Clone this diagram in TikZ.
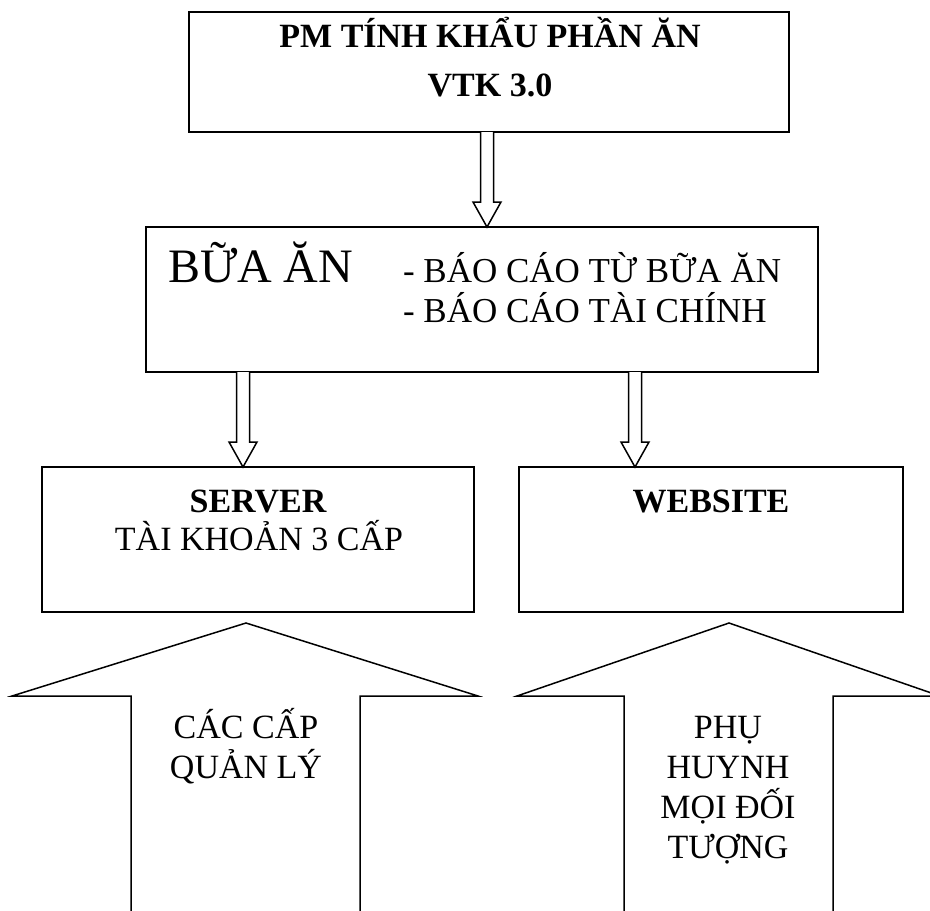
\documentclass[tikz,border=0pt]{standalone}
\usepackage{fontspec}
\setmainfont{Liberation Serif}
\usetikzlibrary{calc}
\tikzset{
  boxnode/.style={draw=black, line width=1.5bp, rectangle, inner sep=0pt, outer sep=0pt},
  hollow/.style={draw=black, line width=1.5bp, fill=white, line join=miter},
  txt/.style={inner sep=0pt, outer sep=0pt, anchor=base, font=\fontsize{34bp}{40bp}\selectfont},
  listtxt/.style={txt, anchor=base west, font=\fontsize{35bp}{40bp}\selectfont},
  btxt/.style={txt, font=\fontsize{34bp}{40bp}\selectfont\bfseries},
  bigtxt/.style={txt, font=\fontsize{48bp}{56bp}\selectfont}
}
\newcommand\hollowdown[2]{%
  \draw[hollow] let \p1=#1, \p2=#2 in
    (\x1-6.5bp,\y1) -- (\x1-6.5bp,\y2+25bp) -- (\x1-14bp,\y2+25bp) -- (\x2,\y2)
    -- (\x1+14bp,\y2+25bp) -- (\x1+6.5bp,\y2+25bp) -- (\x1+6.5bp,\y1);}
\begin{document}
\begin{tikzpicture}[x=1bp, y=-1bp]
\useasboundingbox (0,0) rectangle (930,911);
\fill[white] (0,0) rectangle (930,911);
% boxes
\node[boxnode, minimum width=600bp, minimum height=120bp] (top) at (489,72) {};
\node[boxnode, minimum width=672bp, minimum height=145bp] (mid) at (482,299.5) {};
\node[boxnode, minimum width=432bp, minimum height=145bp] (server) at (258,539.5) {};
\node[boxnode, minimum width=384bp, minimum height=145bp] (web) at (711,539.5) {};
% texts
\node[btxt] (t1) at (490,47) {PM TÍNH KHẨU PHẦN ĂN};
\node[btxt] (t2) at (490,96) {VTK 3.0};
\node[bigtxt, anchor=base west] (m0) at (168,282) {BỮA ĂN};
\node[listtxt] (m1) at (403,282) {- BÁO CÁO TỪ BỮA ĂN};
\node[listtxt] (m2) at (403,322) {- BÁO CÁO TÀI CHÍNH};
\node[btxt] (s1) at (258,512) {SERVER};
\node[txt] (s2) at (259,550) {TÀI KHOẢN 3 CẤP};
\node[btxt] (w1) at (711,512) {WEBSITE};
% small hollow arrows
\coordinate (ax1) at (487,0);
\coordinate (ax2) at (243,0);
\coordinate (ax3) at (635,0);
\hollowdown{(top.south -| ax1)}{(mid.north -| ax1)}
\hollowdown{(mid.south -| ax2)}{(server.north -| ax2)}
\hollowdown{(mid.south -| ax3)}{(web.north -| ax3)}
% big up arrows (cut by the lower edge)
\draw[hollow, fill=none] (131,915) -- (131,696) -- (12,696) -- (246,623) -- (478,696) -- (360,696) -- (360,915);
\draw[hollow, fill=none] (624,915) -- (624,696) -- (517,696) -- (729,623) -- (940,696) -- (833,696) -- (833,915);
\node[txt] (l1) at (246,738) {CÁC CẤP};
\node[txt] (l2) at (246,778) {QUẢN LÝ};
\node[txt] (r1) at (728,738) {PHỤ};
\node[txt] (r2) at (728,778) {HUYNH};
\node[txt] (r3) at (728,818) {MỌI ĐỐI};
\node[txt] (r4) at (728,858) {TƯỢNG};
\end{tikzpicture}
\end{document}
